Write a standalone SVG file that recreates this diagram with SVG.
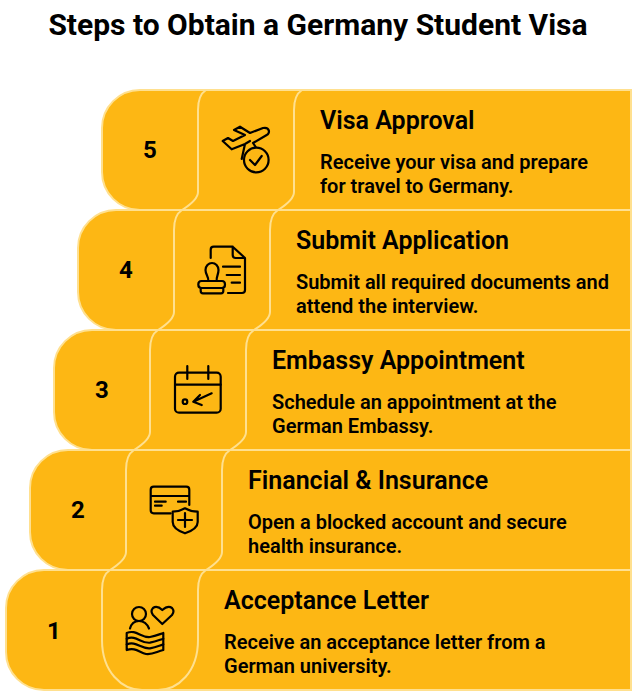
<svg xmlns="http://www.w3.org/2000/svg" width="638" height="699" viewBox="0 0 638 699">
<style>
text{font-family:Roboto,"Liberation Sans",sans-serif;fill:#000}
.t{font-size:30px;font-weight:700}
.h{font-size:25px;font-weight:600}
.d{font-size:20px;font-weight:650}
.n{font-size:24px;font-weight:700;text-anchor:middle}
.b{fill:#FDB714;stroke:#FFE08F;stroke-width:2}
.s{fill:none;stroke:#FFE08F;stroke-width:2}
.i{fill:none;stroke:#000;stroke-width:2.2;stroke-linecap:round;stroke-linejoin:round}
</style>
<rect width="638" height="699" fill="#fff"/>
<text class="t" x="318" y="35" text-anchor="middle">Steps to Obtain a Germany Student Visa</text>

<g id="row1">
<path class="b" d="M44 570H631V690H44A38 38 0 0 1 6 652V608A38 38 0 0 1 44 570Z"/>
<path class="s" d="M110 570Q102 575 102 590V640C102 672 122 690 142 690H158C178 690 198 672 198 640V590Q198 575 206 570"/>
<text class="n" x="54" y="639">1</text>
<g class="i"><circle cx="139" cy="614" r="7"/><path d="M130 628.500Q132 621 139 621Q146 621 149 628.500"/><path d="M162.300 624L153 615Q150 611 153 608Q157 605 162.300 610Q168 605 172 608Q175 611 172 615Z"/><path d="M126.700 633C136 629 141 638 150 637C156 636 160 634 163.300 633V650C156 652 152 655 146 654C139 652 135 647 126.700 650Z"/><path d="M126.700 638.700C136 634.700 141 643.700 150 642.700C156 641.700 160 639.700 163.300 638.700M126.700 644.400C136 640.400 141 649.400 150 648.400C156 647.400 160 645.400 163.300 644.400"/></g>
<text class="h" x="224" y="609">Acceptance Letter</text>
<text class="d" x="224" y="649">Receive an acceptance letter from a</text>
<text class="d" x="224" y="673">German university.</text>
</g>

<g id="row2">
<path class="b" d="M68 450H631V570H68A38 38 0 0 1 30 532V488A38 38 0 0 1 68 450Z"/>
<path class="s" d="M134 450Q126 455 126 470V552Q126 560 110 570M230 450Q222 455 222 470V552Q222 560 206 570"/>
<text class="n" x="78" y="518">2</text>
<g class="i"><path d="M170.700 513.300H153.700Q150.700 513.300 150.700 510.300V489.700Q150.700 486.700 153.700 486.700H186.300Q189.300 486.700 189.300 489.700V505M150.700 496H189.300M155 501.700H165.700M155 505.700H161.700M178 501.700H186"/><path d="M185 508.300Q179 511.700 172.700 511.700V522Q172.700 529 185 533.300Q197.700 529 197.700 522V511.700Q191 511.700 185 508.300ZM185 513V527M178 520H192"/></g>
<text class="h" x="248" y="489">Financial &amp; Insurance</text>
<text class="d" x="248" y="529">Open a blocked account and secure</text>
<text class="d" x="248" y="553">health insurance.</text>
</g>

<g id="row3">
<path class="b" d="M92 330H631V450H92A38 38 0 0 1 54 412V368A38 38 0 0 1 92 330Z"/>
<path class="s" d="M158 330Q150 335 150 350V432Q150 440 134 450M254 330Q246 335 246 350V432Q246 440 230 450"/>
<text class="n" x="102" y="398">3</text>
<g class="i"><rect x="175" y="372.700" width="45.700" height="40" rx="4"/><path d="M175 384.700H220.700M187.300 366V379M208.300 366V379M211.700 393.300L193.300 401.700M200 395L193.300 401.700L201.700 405"/><circle cx="185" cy="401.700" r="2.300"/></g>
<text class="h" x="272" y="369">Embassy Appointment</text>
<text class="d" x="272" y="409">Schedule an appointment at the</text>
<text class="d" x="272" y="433">German Embassy.</text>
</g>

<g id="row4">
<path class="b" d="M116 210H631V330H116A38 38 0 0 1 78 292V248A38 38 0 0 1 116 210Z"/>
<path class="s" d="M182 210Q174 215 174 230V312Q174 320 158 330M278 210Q270 215 270 230V312Q270 320 254 330"/>
<text class="n" x="126" y="278">4</text>
<g class="i"><path d="M210.700 258V249.700Q210.700 246.700 213.700 246.700H232.700L245 258V290Q245 293 242 293H228M232.700 246.700V255Q232.700 258 235.700 258H245M223 266.700H240M226.700 275H240M231.700 282.700H240"/><path d="M208.300 281C209 277 205.500 275 205.500 270C205.500 266 208.500 263 212 263C215.500 263 218.500 266 218.500 270C218.500 275 216 277 216.700 281M201.500 281H222Q225 281 225 284.500Q225 288 222 288H201.500Q198.300 288 198.300 284.500Q198.300 281 201.500 281ZM200.700 288V291Q200.700 293.300 203 293.300H221Q223.300 293.300 223.300 291V288"/></g>
<text class="h" x="296" y="249">Submit Application</text>
<text class="d" x="296" y="289">Submit all required documents and</text>
<text class="d" x="296" y="313">attend the interview.</text>
</g>

<g id="row5">
<path class="b" d="M140 90H631V210H140A38 38 0 0 1 102 172V128A38 38 0 0 1 140 90Z"/>
<path class="s" d="M206 90Q198 95 198 110V192Q198 200 182 210M302 90Q294 95 294 110V192Q294 200 278 210"/>
<text class="n" x="150" y="158">5</text>
<g class="i"><path d="M222.700 141L228 138L233 141L245 135L234 130L240 126.700L250 133L263 128Q268 127 269 131Q269 134 266.700 135L253 143L255.700 147M222.700 141L231.700 149.300L245 144L250 141M245 144L241.700 159"/><circle cx="256.300" cy="160" r="12.300"/><path d="M250 160L255 165L261.700 156"/></g>
<text class="h" x="320" y="129">Visa Approval</text>
<text class="d" x="320" y="169">Receive your visa and prepare</text>
<text class="d" x="320" y="193">for travel to Germany.</text>
</g>
</svg>
